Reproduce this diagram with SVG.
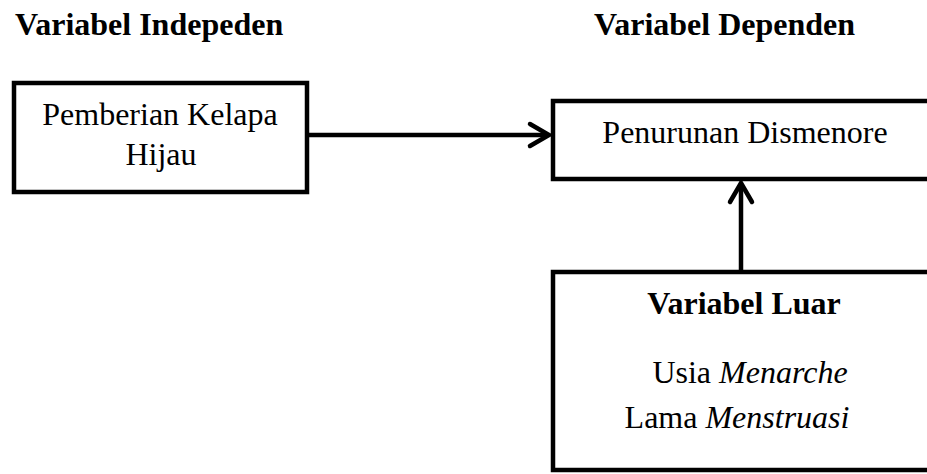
<svg xmlns="http://www.w3.org/2000/svg" width="927" height="474" viewBox="0 0 927 474">
<style>
.box{fill:#fff;stroke:#000;stroke-width:4.5}
.t{font-family:"Liberation Serif","Times New Roman",serif;font-size:32px;fill:#000}
.b{font-weight:bold}
.c{stroke:#000;stroke-width:4.5;fill:none}
.ah{stroke:#000;stroke-width:4.5;fill:none;stroke-linecap:round;stroke-linejoin:miter}
</style>
<g id="title-independen"><text class="t b" x="15" y="35">Variabel Indepeden</text></g>
<g id="title-dependen"><text class="t b" x="594" y="35">Variabel Dependen</text></g>
<g id="node-pemberian">
<rect class="box" x="14" y="83" width="293" height="109"/>
<text class="t" x="160" y="125" text-anchor="middle">Pemberian Kelapa</text>
<text class="t" x="161" y="165" text-anchor="middle">Hijau</text>
</g>
<g id="node-penurunan">
<rect class="box" x="553" y="101" width="400" height="78"/>
<text class="t" x="745" y="143" text-anchor="middle">Penurunan Dismenore</text>
</g>
<g id="node-luar">
<rect class="box" x="553" y="272" width="400" height="198"/>
<text class="t b" x="744" y="314" text-anchor="middle">Variabel Luar</text>
<text class="t" x="750" y="383" text-anchor="middle">Usia <tspan font-style="italic">Menarche</tspan></text>
<text class="t" x="737" y="428" text-anchor="middle">Lama <tspan font-style="italic">Menstruasi</tspan></text>
</g>
<g id="connectors">
<line class="c" x1="307" y1="135" x2="548" y2="135"/>
<polyline class="ah" points="530,124 549,135 530,146"/>
<line class="c" x1="741" y1="272" x2="741" y2="184"/>
<polyline class="ah" points="730,202 741,183 752,202"/>
</g>
</svg>
